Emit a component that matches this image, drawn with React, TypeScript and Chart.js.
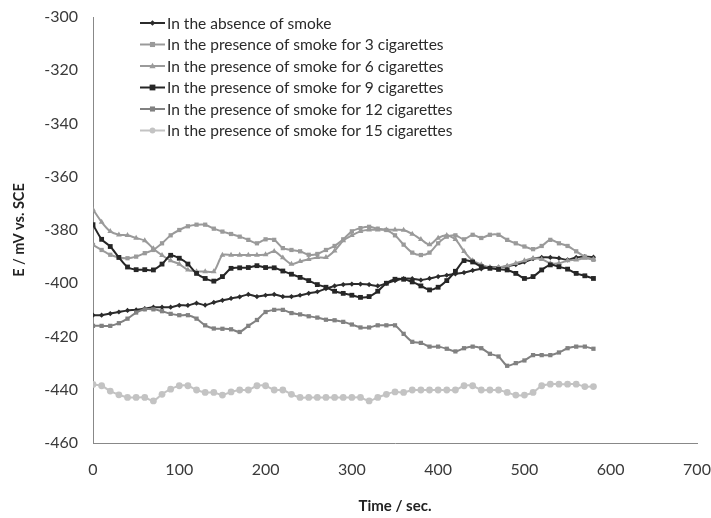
import { useEffect, useRef } from 'react';
import { Chart, registerables } from 'chart.js';

Chart.register(...registerables);

const times = [0, 10, 20, 30, 40, 50, 60, 70, 80, 90, 100, 110, 120, 130, 140, 150, 160, 170, 180, 190, 200, 210, 220, 230, 240, 250, 260, 270, 280, 290, 300, 310, 320, 330, 340, 350, 360, 370, 380, 390, 400, 410, 420, 430, 440, 450, 460, 470, 480, 490, 500, 510, 520, 530, 540, 550, 560, 570, 580];

const absence = [-412, -412, -411.4, -410.8, -410.2, -410, -409.5, -409, -409, -409, -408.3, -408.3, -407.5, -408.2, -407.2, -406.4, -405.7, -405.1, -404.2, -405, -404.5, -404.2, -405, -405, -404.5, -403.8, -403.2, -402, -401, -400.5, -400.3, -400.3, -400.5, -401, -400, -399, -398.3, -398.3, -398.8, -398.2, -397.5, -397, -396.5, -396, -395.2, -394.6, -394, -394, -393.6, -393, -392, -390.8, -390.3, -390.3, -390.6, -391.2, -390.3, -390, -390.2];

const cig3 = [-385.6, -387.5, -389.3, -390.3, -390.6, -390, -388.7, -387.5, -385, -382, -380, -378.6, -378, -378, -379.5, -380.6, -381.5, -382.5, -383.7, -385, -383.5, -383.7, -386.8, -387.5, -388, -389.3, -389, -387.5, -386, -383.5, -380.5, -379.3, -378.8, -379.5, -380, -382, -385.5, -388.5, -389.4, -388.5, -385, -382.5, -382, -383.5, -381.8, -383, -381.8, -381.8, -383.7, -385, -386.2, -387.2, -386, -383.7, -385, -386, -388, -390, -391.2];

const cig6 = [-372.3, -377, -380.5, -381.8, -382, -383, -384, -387, -389.5, -391.5, -392.8, -395, -395.6, -395.6, -395.6, -389.4, -389.4, -389.4, -389.4, -389.4, -389.2, -388, -390.4, -392.8, -391.8, -391, -390.3, -390.3, -387.8, -384, -382, -380.5, -379.9, -379.9, -379.9, -379.9, -380, -381.5, -383.5, -385.5, -383, -382, -383.5, -388, -391.5, -393, -394, -394, -393.5, -392.5, -391.5, -390.6, -391, -392.5, -392.5, -391.5, -391.2, -390.6, -391];

const cig9 = [-378, -383.5, -386.2, -390.3, -393.9, -394.9, -394.9, -395, -392.8, -389.5, -390.6, -392.8, -396.3, -398.2, -399.2, -397.5, -394.4, -394.2, -394.1, -393.4, -394.1, -394.2, -395.4, -396.6, -397.8, -399, -400.5, -401.5, -403, -403.8, -404.5, -405.3, -405, -403, -400, -398.5, -398.5, -399.5, -401, -402.5, -401.5, -399, -395.5, -391.5, -392, -393.8, -394.4, -394.8, -395, -396.3, -398.2, -397.5, -395, -393.1, -393.8, -394.7, -396.3, -397.2, -398.2];

const cig12 = [-416, -416, -416, -415, -413.3, -411, -409.8, -409.8, -410.5, -411.5, -412, -412, -413.3, -415.8, -417, -417.1, -417.3, -418.3, -416, -413.8, -410.8, -410, -410, -411.2, -411.7, -412.4, -412.9, -413.7, -413.9, -414.5, -415.5, -416.6, -416.6, -415.8, -415.8, -415.8, -419, -422, -422.4, -423.8, -423.8, -424.6, -425.6, -424.4, -423.8, -424.4, -426.5, -427.5, -431, -430, -429, -427, -427, -427, -426, -424.4, -423.8, -423.8, -424.6];

const cig15 = [-438, -438.5, -440.5, -441.9, -442.9, -442.9, -442.9, -444.2, -441.7, -439.8, -438.5, -438.5, -440.1, -441, -441, -442, -440.8, -440.1, -440.1, -438.5, -438.5, -440.1, -440.1, -441.7, -442.9, -442.9, -442.9, -442.9, -442.9, -442.9, -442.9, -442.9, -444.2, -442.9, -441.7, -440.8, -441, -440.1, -440.1, -440.1, -440.1, -440.1, -440.1, -438.5, -438.5, -440.1, -440.1, -440.1, -441, -442, -442, -441, -438.5, -437.9, -437.9, -437.9, -437.9, -438.8, -438.8];

const seriesLabels = [
  'In the absence of smoke',
  'In the presence of smoke for 3 cigarettes',
  'In the presence of smoke for 6 cigarettes',
  'In the presence of smoke for 9 cigarettes',
  'In the presence of smoke for 12 cigarettes',
  'In the presence of smoke for 15 cigarettes',
];

const seriesValues = [absence, cig3, cig6, cig9, cig12, cig15];
const seriesColors = ['#2b2b2b', '#9a9a9a', '#9a9a9a', '#262626', '#818181', '#c3c3c3'];
const seriesMarkers = ['rectRot', 'rect', 'triangle', 'rect', 'rect', 'circle'];
const seriesRadius = [2.6, 3, 3.3, 3.4, 3, 3.4];

const FONT = 'Lato, "Open Sans", sans-serif';

function drawMarker(ctx: CanvasRenderingContext2D, style: string, x: number, y: number, r: number) {
  ctx.beginPath();
  if (style === 'circle') {
    ctx.arc(x, y, r, 0, Math.PI * 2);
  } else if (style === 'rect') {
    ctx.rect(x - r, y - r, 2 * r, 2 * r);
  } else if (style === 'rectRot') {
    ctx.moveTo(x, y - r * 1.3);
    ctx.lineTo(x + r * 1.3, y);
    ctx.lineTo(x, y + r * 1.3);
    ctx.lineTo(x - r * 1.3, y);
    ctx.closePath();
  } else if (style === 'triangle') {
    ctx.moveTo(x, y - r * 1.2);
    ctx.lineTo(x + r * 1.1, y + r * 0.8);
    ctx.lineTo(x - r * 1.1, y + r * 0.8);
    ctx.closePath();
  }
  ctx.fill();
}

const insideLegend = {
  id: 'insideLegend',
  afterDraw(chart: any) {
    const ctx: CanvasRenderingContext2D = chart.ctx;
    ctx.save();
    chart.data.datasets.forEach((ds: any, i: number) => {
      const y = 23 + i * 21.5;
      ctx.strokeStyle = ds.borderColor;
      ctx.fillStyle = ds.borderColor;
      ctx.lineWidth = 2;
      ctx.beginPath();
      ctx.moveTo(140, y);
      ctx.lineTo(165, y);
      ctx.stroke();
      drawMarker(ctx, ds.pointStyle, 152.5, y, ds.pointRadius * 0.85);
      ctx.fillStyle = '#2a2a2a';
      ctx.font = '15.5px ' + FONT;
      ctx.textBaseline = 'middle';
      ctx.textAlign = 'left';
      ctx.fillText(ds.label, 167, y + 0.5);
    });
    ctx.restore();
  },
};

export default function App() {
  const ref = useRef<HTMLCanvasElement>(null);

  useEffect(() => {
    document.body.style.margin = '0';
    if (!ref.current) return;
    const datasets = seriesValues.map((vals, i) => ({
      label: seriesLabels[i],
      data: times.map((t, k) => ({ x: t, y: vals[k] })),
      borderColor: seriesColors[i],
      backgroundColor: seriesColors[i],
      pointBackgroundColor: seriesColors[i],
      pointBorderColor: seriesColors[i],
      pointStyle: seriesMarkers[i],
      pointRadius: seriesRadius[i],
      pointBorderWidth: 0,
      borderWidth: 2,
      tension: 0.25,
      fill: false,
      order: seriesValues.length - i,
    }));

    const chart = new Chart(ref.current, {
      type: 'line',
      data: { datasets },
      options: {
        animation: false,
        responsive: false,
        layout: { padding: { left: 0, top: 17, right: 14, bottom: 0 } },
        plugins: {
          legend: { display: false },
          tooltip: { enabled: false },
        },
        scales: {
          x: {
            type: 'linear',
            min: 0,
            max: 700,
            ticks: { stepSize: 100, color: '#3a3a3a', font: { family: FONT, size: 16 }, padding: 9, maxRotation: 0 },
            grid: { display: false },
            border: { display: true, color: '#888', width: 1 },
            title: {
              display: true,
              text: 'Time / sec.',
              color: '#222',
              font: { family: FONT, size: 15, weight: 'bold' },
              padding: { top: 0, bottom: 3 },
            },
            afterFit(scale: any) {
              scale.height = 75;
              scale.paddingLeft = 0;
              scale.paddingRight = 0;
            },
          },
          y: {
            type: 'linear',
            min: -460,
            max: -300,
            ticks: { stepSize: 20, color: '#3a3a3a', font: { family: FONT, size: 16 }, padding: 7 },
            grid: { display: false },
            border: { display: true, color: '#888', width: 1 },
            title: {
              display: true,
              text: 'E / mV vs. SCE',
              color: '#222',
              font: { family: FONT, size: 14.5, weight: 'bold' },
              padding: { top: 11, bottom: 0 },
            },
            afterFit(scale: any) {
              scale.width = 93;
              scale.paddingTop = 0;
              scale.paddingBottom = 0;
            },
          },
        },
      } as any,
      plugins: [insideLegend],
    });
    return () => chart.destroy();
  }, []);

  return (
    <div style={{ width: 711, height: 518 }}>
      <canvas ref={ref} width={711} height={518} style={{ display: 'block' }} />
    </div>
  );
}
